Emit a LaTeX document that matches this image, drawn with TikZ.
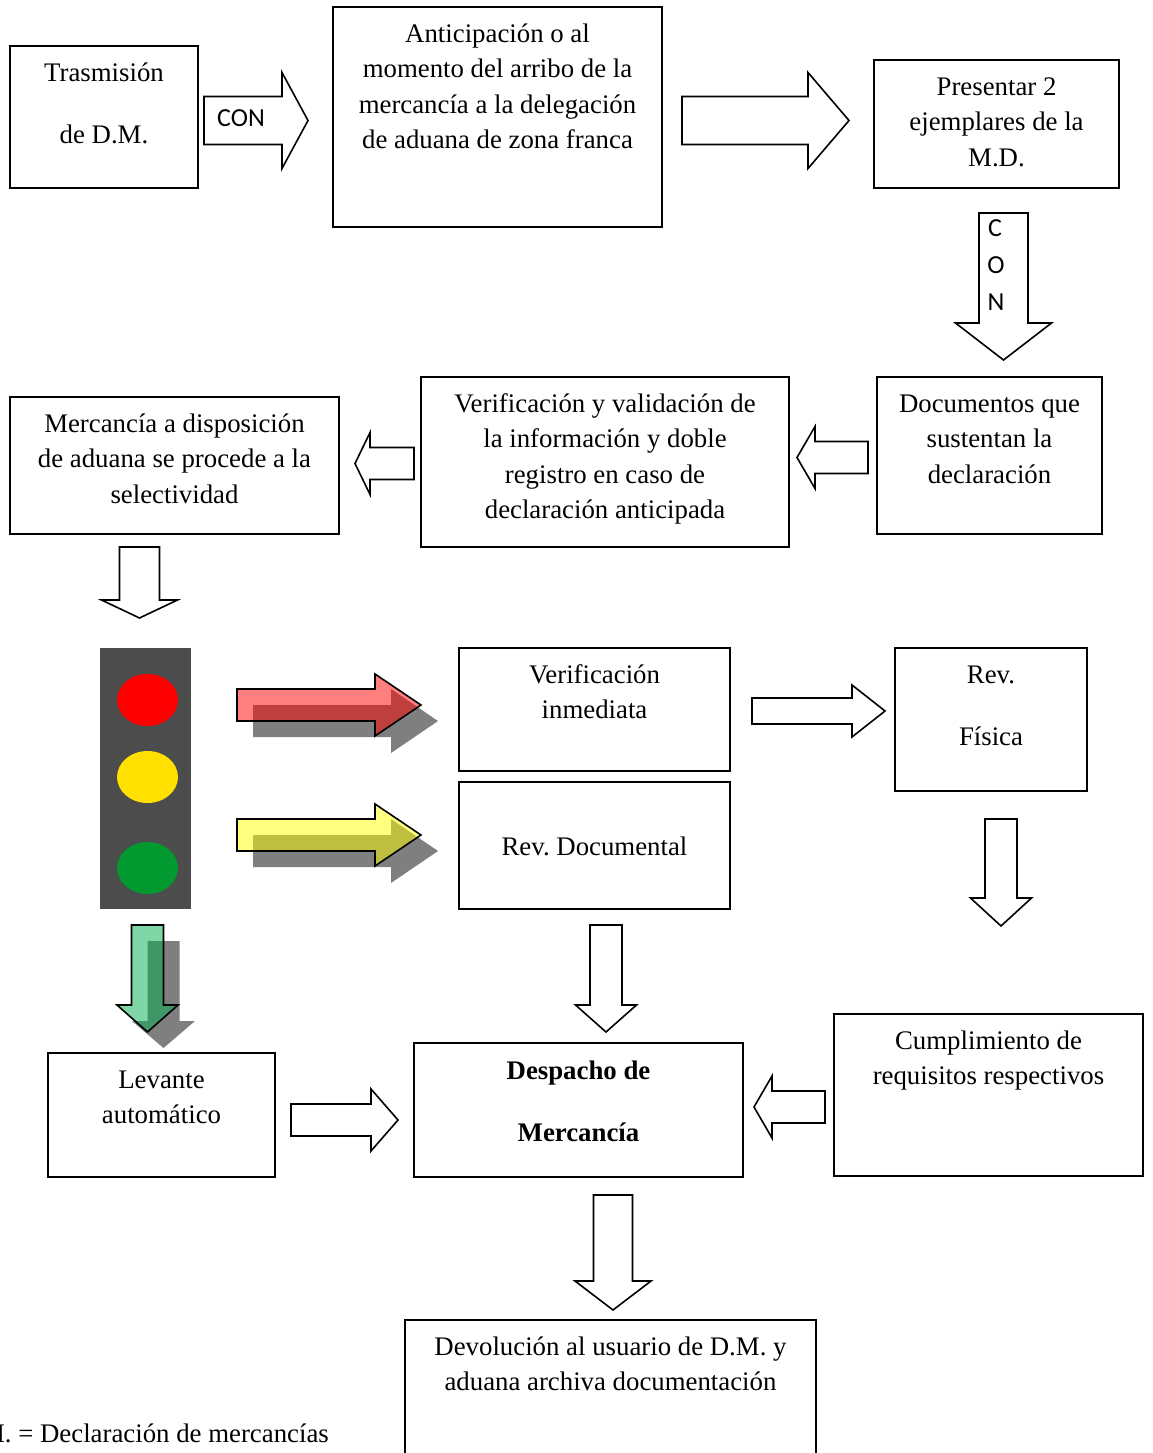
\documentclass[tikz,border=0pt]{standalone}
\usepackage{fontspec}
\setmainfont{Liberation Serif}
\newfontfamily\confont{Carlito}
\usetikzlibrary{positioning}
\frenchspacing

\tikzset{
  box/.style={draw, line width=1.6pt, inner sep=0pt, outer sep=0pt, anchor=north west,
    font=\fontsize{26.8}{35.5}\selectfont},
  blockarrow/.style={draw, line width=1.6pt, line join=miter, fill=white},
  glassarrow/.style={draw, line width=1.6pt, line join=miter, fill opacity=.5},
  shadowarrow/.style={fill=black, fill opacity=.5},
  contxt/.style={font=\fontsize{26}{30}\selectfont\confont, inner sep=0pt},
}

% text in a box: width, height, text (starts at the top)
\newcommand{\boxtext}[4][10.5pt]{\parbox[c][#3pt][t]{#2pt}{\centering\vspace*{#1}\strut #4}}
% start, head base, tip, middle, half shaft, half head
\newcommand{\harrow}[7][blockarrow]{\path[#1] (#2,#5-#6) -- (#3,#5-#6) -- (#3,#5-#7) -- (#4,#5) -- (#3,#5+#7) -- (#3,#5+#6) -- (#2,#5+#6) -- cycle;}
\newcommand{\varrow}[7][blockarrow]{\path[#1] (#5-#6,#2) -- (#5-#6,#3) -- (#5-#7,#3) -- (#5,#4) -- (#5+#7,#3) -- (#5+#6,#3) -- (#5+#6,#2) -- cycle;}

\begin{document}
\begin{tikzpicture}[x=1pt,y=-1pt]
  \useasboundingbox (0,0) rectangle (1152,1453);
%  \draw[help lines,step=100] (0,0) grid (1152,1453);

  \node[box] (trasmision) at (10,46) {\boxtext{188}{142}{Trasmisión\\[26.5pt]de D.M.}};
  \node[box] (anticipacion) at (333,7) {\boxtext{329}{220}{Anticipación o al\\momento del arribo de la\\mercancía a la delegación\\de aduana de zona franca}};
  \node[box] (presentar) at (874,60) {\boxtext{245}{128}{Presentar 2\\ejemplares de la\\M.D.}};

  \node[box] (documentos) at (877,377) {\boxtext{225}{157}{Documentos que\\sustentan la\\declaración}};
  \node[box] (verificacion) at (421,377) {\boxtext{368}{170}{Verificación y validación de\\la información y doble\\registro en caso de\\declaración anticipada}};
  \node[box] (mercancia) at (10,397) {\boxtext{329}{137}{Mercancía a disposición\\de aduana se procede a la\\selectividad}};

  \node[box] (inmediata) at (459,648) {\boxtext{271}{123}{Verificación\\inmediata}};
  \node[box] (fisica) at (895,648) {\boxtext{192}{143}{Rev.\\[26.5pt]Física}};
  \node[box] (documental) at (459,782) {\boxtext[48.5pt]{271}{127}{Rev. Documental}};

  \node[box] (levante) at (48,1053) {\boxtext{227}{124}{Levante\\automático}};
  \node[box] (despacho) at (414,1043) {\boxtext[11.3pt]{329}{134}{\textbf{Despacho de}\\[26.5pt]\textbf{Mercancía}}};
  \node[box] (cumplimiento) at (834,1014) {\boxtext{309}{162}{Cumplimiento de\\requisitos respectivos}};
  \node[box] (devolucion) at (405,1320) {\boxtext{411}{160}{Devolución al usuario de D.M. y\\aduana archiva documentación}};

  \node[anchor=base east, inner sep=0pt, font=\fontsize{26.8}{35.5}\selectfont] (nota) at (329,1442) {D.M. = Declaración de mercancías};

  % semaforo
  \fill[fill=black!70] (100,648) rectangle (191,909);
  \fill[red] (147.5,700) ellipse (30.5 and 26);
  \fill[fill={rgb,255:red,255;green,224;blue,0}] (147.5,777) ellipse (30.5 and 26);
  \fill[fill={rgb,255:red,2;green,154;blue,48}] (147.5,868) ellipse (30.5 and 26);

  % flechas
  \harrow{204}{282}{308}{120.5}{24}{48}
  \node[contxt, anchor=west] (con) at (217,118) {CON};
  \harrow{682}{808}{849}{120.5}{24}{48}
  \varrow{213}{323}{360}{1003.5}{24.5}{48}
  \node[contxt] (conc) at (995,228) {C};
  \node[contxt] (cono) at (996,265) {O};
  \node[contxt] (conn) at (996,302) {N};

  \harrow{868}{815}{797}{457.5}{16}{31}
  \harrow{414}{370}{355}{463.5}{16}{31}
  \varrow{547}{600}{618}{139.5}{20}{38}

  \harrow[shadowarrow]{253}{391}{438}{721}{16}{32}
  \harrow[glassarrow, fill=red]{237}{375}{421}{705}{16}{31}
  \harrow[shadowarrow]{253}{391}{438}{851}{16}{32}
  \harrow[glassarrow, fill={rgb,255:red,255;green,255;blue,0}]{237}{375}{421}{835}{16}{31}
  \varrow[shadowarrow]{941}{1021}{1048}{163.5}{16}{31.5}
  \varrow[glassarrow, fill={rgb,255:red,0;green,176;blue,80}]{925}{1005}{1032}{147.5}{16}{30.5}

  \harrow{752}{852}{885}{711}{13}{26}
  \varrow{819}{898}{926}{1001}{16}{30.5}
  \varrow{925}{1005}{1032}{606}{16}{30.5}
  \harrow{291}{371}{398}{1120}{16}{31}
  \harrow{825}{772}{754}{1107}{16}{31}
  \varrow{1195}{1281}{1310}{613}{19.5}{38}
\end{tikzpicture}
\end{document}
